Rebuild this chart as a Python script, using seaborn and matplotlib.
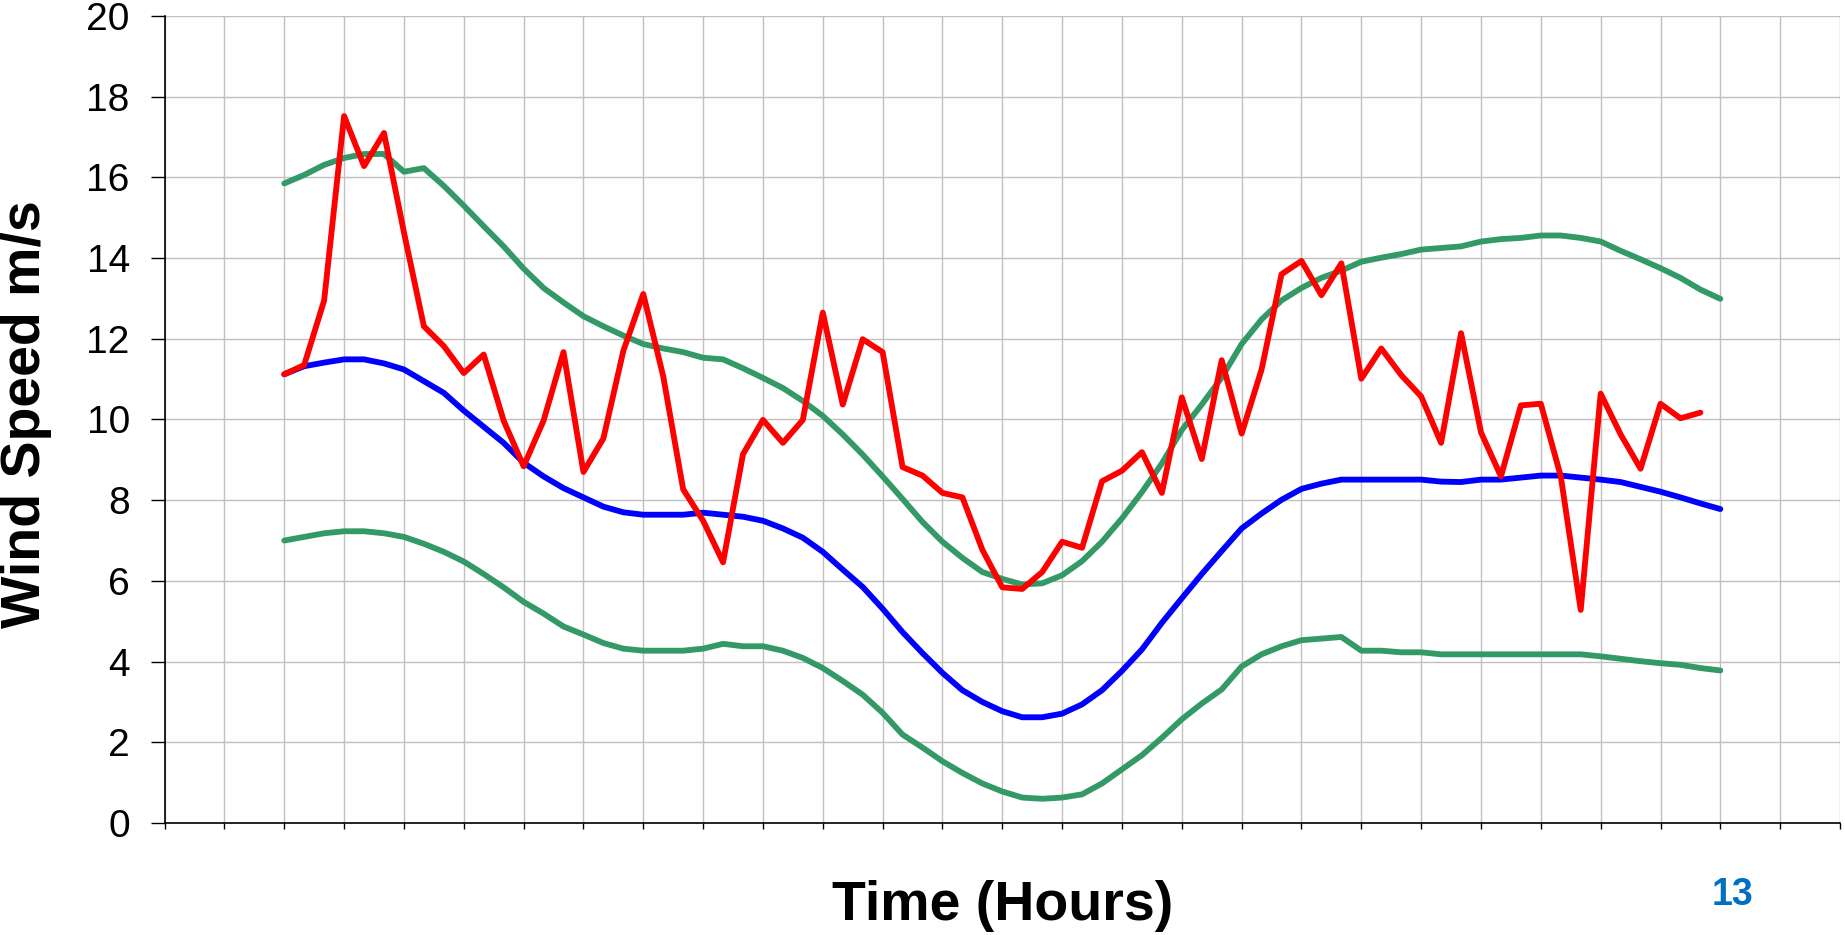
import numpy as np
import pandas as pd
import matplotlib
matplotlib.use("Agg")
import matplotlib.pyplot as plt
import seaborn as sns

# Data: one reading every 20 minutes over 24 hours
hours = [i / 3 for i in range(73)]

upper_band = [15.85, 16.06, 16.31, 16.48, 16.58, 16.58, 16.14, 16.23, 15.79, 15.30,
              14.79, 14.29, 13.74, 13.26, 12.90, 12.56, 12.31, 12.08, 11.87, 11.76,
              11.67, 11.53, 11.49, 11.27, 11.03, 10.78, 10.46, 10.09, 9.63, 9.13,
              8.59, 8.03, 7.46, 6.97, 6.57, 6.22, 6.05, 5.91, 5.94, 6.14,
              6.49, 6.97, 7.55, 8.20, 8.91, 9.74, 10.37, 11.04, 11.87, 12.48,
              12.95, 13.26, 13.51, 13.69, 13.91, 14.01, 14.10, 14.21, 14.25, 14.29,
              14.41, 14.47, 14.50, 14.56, 14.56, 14.50, 14.41, 14.18, 13.97, 13.75,
              13.51, 13.22, 12.99]

mean_speed = [11.12, 11.32, 11.41, 11.49, 11.49, 11.39, 11.24, 10.95, 10.66, 10.22,
              9.82, 9.42, 8.93, 8.59, 8.30, 8.07, 7.84, 7.70, 7.64, 7.64,
              7.64, 7.69, 7.64, 7.59, 7.49, 7.30, 7.07, 6.72, 6.28, 5.85,
              5.31, 4.73, 4.21, 3.72, 3.29, 3.00, 2.77, 2.62, 2.62, 2.71,
              2.94, 3.29, 3.77, 4.30, 4.96, 5.57, 6.17, 6.74, 7.30, 7.67,
              8.01, 8.28, 8.41, 8.51, 8.51, 8.51, 8.51, 8.51, 8.46, 8.45,
              8.51, 8.51, 8.56, 8.61, 8.61, 8.56, 8.51, 8.45, 8.33, 8.21,
              8.07, 7.92, 7.78]

lower_band = [7.00, 7.09, 7.18, 7.23, 7.23, 7.18, 7.09, 6.92, 6.72, 6.48,
              6.17, 5.84, 5.48, 5.19, 4.87, 4.67, 4.46, 4.32, 4.27, 4.27,
              4.27, 4.32, 4.44, 4.38, 4.38, 4.27, 4.09, 3.84, 3.52, 3.18,
              2.73, 2.19, 1.87, 1.53, 1.24, 0.98, 0.78, 0.63, 0.60, 0.63,
              0.71, 0.98, 1.33, 1.68, 2.11, 2.57, 2.96, 3.31, 3.88, 4.18,
              4.38, 4.53, 4.57, 4.61, 4.27, 4.27, 4.23, 4.23, 4.18, 4.18,
              4.18, 4.18, 4.18, 4.18, 4.18, 4.18, 4.13, 4.07, 4.01, 3.96,
              3.92, 3.84, 3.78]

# measured speed, last reading at 23:40
actual_speed = [11.12, 11.35, 12.95, 17.52, 16.28, 17.10, 14.64, 12.31, 11.82, 11.15,
                11.61, 9.97, 8.84, 9.97, 11.67, 8.70, 9.53, 11.70, 13.11, 11.07,
                8.27, 7.49, 6.46, 9.14, 9.99, 9.42, 9.99, 12.65, 10.37, 11.99,
                11.67, 8.82, 8.61, 8.18, 8.07, 6.77, 5.84, 5.80, 6.22, 6.97,
                6.82, 8.47, 8.73, 9.19, 8.18, 10.55, 9.02, 11.47, 9.65, 11.24,
                13.60, 13.93, 13.08, 13.87, 11.01, 11.76, 11.10, 10.57, 9.42, 12.14,
                9.68, 8.59, 10.35, 10.39, 8.59, 5.28, 10.64, 9.63, 8.78, 10.39,
                10.03, 10.17]

df = pd.DataFrame({"hour": hours, "upper": upper_band,
                   "mean": mean_speed, "lower": lower_band})
df_actual = pd.DataFrame({"hour": hours[:len(actual_speed)], "speed": actual_speed})

sns.set_style("whitegrid")
plt.rcParams['font.family'] = ['Liberation Sans', 'DejaVu Sans']
plt.rcParams['text.color'] = 'black'

fig = plt.figure(figsize=(18.45, 9.35), dpi=100)
ax = fig.add_axes([0.0892, 0.1198, 0.9081, 0.8631])

green = "#339966"
line_kw = dict(lw=4.2, solid_joinstyle="round", solid_capstyle="round", ax=ax)
sns.lineplot(data=df, x="hour", y="upper", color=green, **line_kw)
sns.lineplot(data=df, x="hour", y="lower", color=green, **line_kw)
sns.lineplot(data=df, x="hour", y="mean", color="#0000FF", **line_kw)
sns.lineplot(data=df_actual, x="hour", y="speed", color="#FF0000", **line_kw)

# Axes formatting
ax.set_xlim(-2, 26)
ax.set_ylim(0, 20)
ax.set_xticks(range(-2, 27))
ax.set_xticklabels([])
ax.set_yticks(range(0, 21, 2))
ax.minorticks_off()
ax.grid(True, which="major", color="#C0C0C0", lw=1)
ax.set_axisbelow(True)
for side in ["top", "right"]:
    ax.spines[side].set_visible(False)
for side in ["left", "bottom"]:
    ax.spines[side].set_color("black")
    ax.spines[side].set_linewidth(1.2)
ax.tick_params(axis="y", left=True, direction="out", length=10, width=1,
               color="black", pad=15, labelsize=28, labelcolor="black")
ax.tick_params(axis="x", bottom=True, direction="out", length=4.5, width=1,
               color="black")
ax.set_xlabel("")
ax.set_ylabel("")

fig.text(0.0141, 0.5567, "Wind Speed m/s", rotation=90, ha="center", va="center",
         fontsize=40, fontweight="bold")
fig.text(0.5436, 0.0035, "Time (Hours)", ha="center", va="bottom",
         fontsize=40, fontweight="bold")
fig.text(0.9388, 0.0430, "13", ha="center", va="center", color="#0070C0",
         fontsize=27, fontweight="bold")

fig.savefig("out.png", dpi=100)
